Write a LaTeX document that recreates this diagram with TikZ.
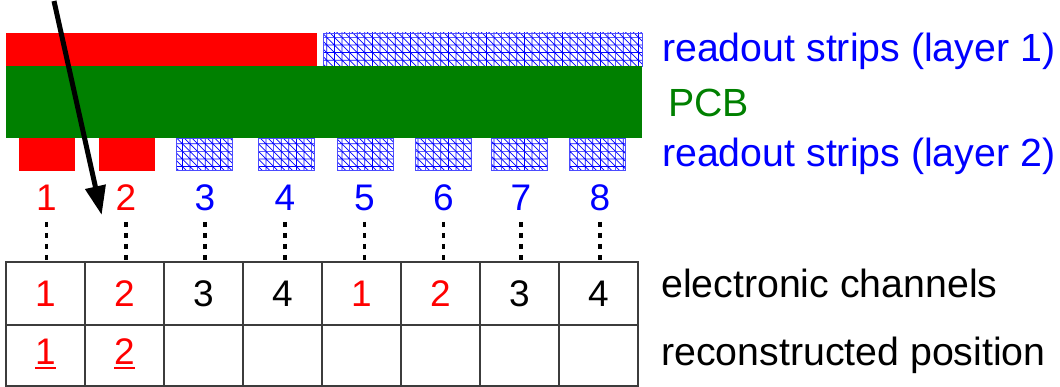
\documentclass[tikz,border=0pt]{standalone}
\usepackage{fontspec}
\setmainfont{Liberation Sans}
\usetikzlibrary{arrows.meta,patterns}
\definecolor{pcbgreen}{RGB}{0,128,0}
\definecolor{tabline}{RGB}{60,60,60}
\pgfdeclarepatternformonly{gridhatch}{\pgfqpoint{-1pt}{-1pt}}{\pgfqpoint{8.6pt}{8.6pt}}{\pgfqpoint{7.6pt}{7.6pt}}{%
  \pgfsetlinewidth{0.7pt}%
  \pgfpathmoveto{\pgfqpoint{0pt}{0pt}}\pgfpathlineto{\pgfqpoint{7.6pt}{0pt}}%
  \pgfpathmoveto{\pgfqpoint{0pt}{0pt}}\pgfpathlineto{\pgfqpoint{0pt}{7.6pt}}%
  \pgfpathmoveto{\pgfqpoint{0pt}{7.6pt}}\pgfpathlineto{\pgfqpoint{7.6pt}{0pt}}%
  \pgfusepath{stroke}}
\newcommand\myul[1]{\setbox0\hbox{#1}\rlap{\rule[-5pt]{\wd0}{2.3pt}}\box0}
\tikzset{
  redstrip/.style={fill=red},
  bluestrip/.style={pattern=gridhatch, pattern color=blue, draw=blue!70, line width=0.8pt},
  pcb/.style={fill=pcbgreen},
  biglabel/.style={anchor=base west, inner sep=0pt, font=\fontsize{39.3}{45}\selectfont},
  digit/.style={anchor=base, inner sep=0pt, font=\fontsize{37}{42}\selectfont},
  cell/.style={draw=tabline, line width=1.3pt, inner sep=0pt, minimum width=79pt},
  dashline/.style={line width=3.2pt, dash pattern=on 5.5pt off 5.5pt},
  hitarrow/.style={line width=5pt, -{Triangle[length=29pt,width=20pt]}}
}
\begin{document}
\begin{tikzpicture}[x=1pt,y=-1pt]
\useasboundingbox (0,0) rectangle (1060,387);
% layer 1
\path[redstrip] (6,33) rectangle (317,66);
\fill[white] (323,33) rectangle (642,66);
\path[bluestrip] (323,33) rectangle (642,66);
% PCB
\path[pcb] (6,66) rectangle (642,138);
% layer 2
\path[redstrip] (18.5,138) rectangle (74.5,171);
\path[redstrip] (98.5,138) rectangle (154.5,171);
\foreach \a/\b in {176.7/232.6, 258.2/314, 337.7/393, 415.4/471.3, 491/547, 569/625}{
  \fill[white] (\a,138) rectangle (\b,171);
  \path[bluestrip] (\a,138.5) rectangle (\b,170.5);
}
% right labels
\node[biglabel, text=blue] (l1) at (662,62) {readout strips (layer 1)};
\node[biglabel, text=pcbgreen] (lp) at (668,117) {PCB};
\node[biglabel, text=blue] (l2) at (662,167) {readout strips (layer 2)};
\node[biglabel] (lc) at (661,298) {electronic channels};
\node[biglabel] (lr) at (661,365) {reconstructed position};
% strip numbers and dashed links
\foreach \n/\x/\c in {1/46.5/red, 2/126/red, 3/205/blue, 4/285/blue, 5/364.5/blue, 6/443.5/blue, 7/521/blue, 8/600/blue}{
  \node[digit, text=\c] (s\n) at (\x,210.5) {\n};
  \coordinate (da\n) at (\x,222);
  \coordinate (db\n) at (\x,261);
  \draw[dashline] (da\n) -- (db\n);
}
% table
\foreach \i in {1,...,8}{
  \node[cell, minimum height=63pt] (e\i) at ({6+79*\i-39.5},293.5) {};
  \node[cell, minimum height=61pt] (r\i) at ({6+79*\i-39.5},355.5) {};
}
\foreach \i/\t/\c in {1/1/red, 2/2/red, 3/3/black, 4/4/black, 5/1/red, 6/2/red, 7/3/black, 8/4/black}{
  \node[digit, text=\c] (et\i) at ({6+79*\i-39.5},306) {\t};
}
\node[digit, text=red] (rt1) at (45.5,364) {\color{red}\myul{1}};
\node[digit, text=red] (rt2) at (124.5,364) {\color{red}\myul{2}};
% incoming particle
\coordinate (pin) at (54,1);
\coordinate (pout) at (101.7,215);
\draw[hitarrow] (pin) -- (pout);
\end{tikzpicture}
\end{document}
